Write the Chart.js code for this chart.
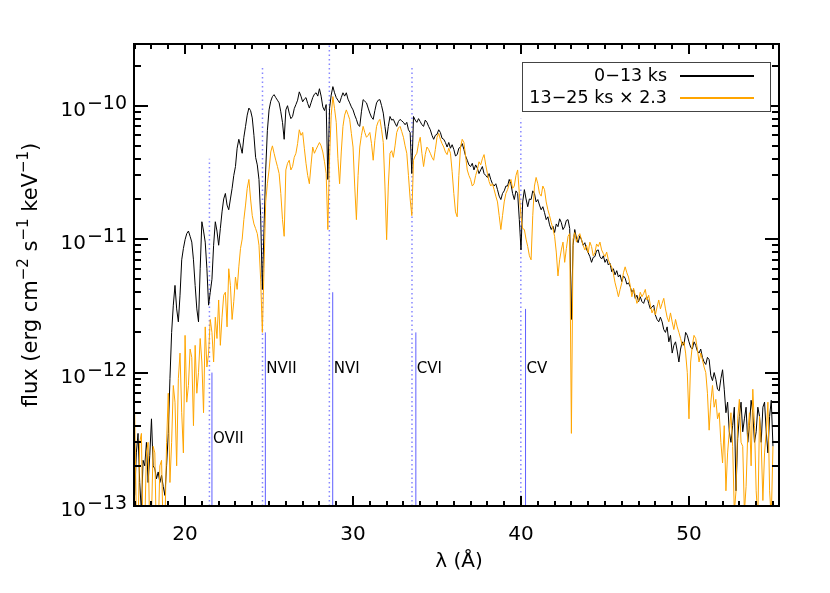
<!DOCTYPE html>
<html>
<head>
<meta charset="utf-8">
<script src="https://cdn.jsdelivr.net/npm/chart.js@4.4.1/dist/chart.umd.min.js"></script>
<style>
  html, body { margin: 0; padding: 0; background: #fff; }
  canvas { display: block; }
</style>
</head>
<body>
<canvas id="spec" width="830" height="593"></canvas>
<script>
// wavelength grid (Angstrom)
const wave = [
  17.0, 17.1, 17.2, 17.3, 17.4, 17.5, 17.6, 17.7, 17.8, 17.9,
  18.0, 18.1, 18.2, 18.3, 18.4, 18.5, 18.6, 18.7, 18.8, 18.9,
  19.0, 19.1, 19.2, 19.3, 19.4, 19.5, 19.6, 19.7, 19.8, 19.9,
  20.0, 20.1, 20.2, 20.3, 20.4, 20.5, 20.6, 20.7, 20.8, 20.9,
  21.0, 21.1, 21.2, 21.3, 21.4, 21.5, 21.6, 21.7, 21.8, 21.9,
  22.0, 22.1, 22.2, 22.3, 22.4, 22.5, 22.6, 22.7, 22.8, 22.9,
  23.0, 23.1, 23.2, 23.3, 23.4, 23.5, 23.6, 23.7, 23.8, 23.9,
  24.0, 24.1, 24.2, 24.3, 24.4, 24.5, 24.6, 24.7, 24.8, 24.9,
  25.0, 25.1, 25.2, 25.3, 25.4, 25.5, 25.6, 25.7, 25.8, 25.9,
  26.0, 26.1, 26.2, 26.3, 26.4, 26.5, 26.6, 26.7, 26.8, 26.9,
  27.0, 27.1, 27.2, 27.3, 27.4, 27.5, 27.6, 27.7, 27.8, 27.9,
  28.0, 28.1, 28.2, 28.3, 28.4, 28.5, 28.6, 28.7, 28.8, 28.9,
  29.0, 29.1, 29.2, 29.3, 29.4, 29.5, 29.6, 29.7, 29.8, 29.9,
  30.0, 30.1, 30.2, 30.3, 30.4, 30.5, 30.6, 30.7, 30.8, 30.9,
  31.0, 31.1, 31.2, 31.3, 31.4, 31.5, 31.6, 31.7, 31.8, 31.9,
  32.0, 32.1, 32.2, 32.3, 32.4, 32.5, 32.6, 32.7, 32.8, 32.9,
  33.0, 33.1, 33.2, 33.3, 33.4, 33.5, 33.6, 33.7, 33.8, 33.9,
  34.0, 34.1, 34.2, 34.3, 34.4, 34.5, 34.6, 34.7, 34.8, 34.9,
  35.0, 35.1, 35.2, 35.3, 35.4, 35.5, 35.6, 35.7, 35.8, 35.9,
  36.0, 36.1, 36.2, 36.3, 36.4, 36.5, 36.6, 36.7, 36.8, 36.9,
  37.0, 37.1, 37.2, 37.3, 37.4, 37.5, 37.6, 37.7, 37.8, 37.9,
  38.0, 38.1, 38.2, 38.3, 38.4, 38.5, 38.6, 38.7, 38.8, 38.9,
  39.0, 39.1, 39.2, 39.3, 39.4, 39.5, 39.6, 39.7, 39.8, 39.9,
  40.0, 40.1, 40.2, 40.3, 40.4, 40.5, 40.6, 40.7, 40.8, 40.9,
  41.0, 41.1, 41.2, 41.3, 41.4, 41.5, 41.6, 41.7, 41.8, 41.9,
  42.0, 42.1, 42.2, 42.3, 42.4, 42.5, 42.6, 42.7, 42.8, 42.9,
  43.0, 43.1, 43.2, 43.3, 43.4, 43.5, 43.6, 43.7, 43.8, 43.9,
  44.0, 44.1, 44.2, 44.3, 44.4, 44.5, 44.6, 44.7, 44.8, 44.9,
  45.0, 45.1, 45.2, 45.3, 45.4, 45.5, 45.6, 45.7, 45.8, 45.9,
  46.0, 46.1, 46.2, 46.3, 46.4, 46.5, 46.6, 46.7, 46.8, 46.9,
  47.0, 47.1, 47.2, 47.3, 47.4, 47.5, 47.6, 47.7, 47.8, 47.9,
  48.0, 48.1, 48.2, 48.3, 48.4, 48.5, 48.6, 48.7, 48.8, 48.9,
  49.0, 49.1, 49.2, 49.3, 49.4, 49.5, 49.6, 49.7, 49.8, 49.9,
  50.0, 50.1, 50.2, 50.3, 50.4, 50.5, 50.6, 50.7, 50.8, 50.9,
  51.0, 51.1, 51.2, 51.3, 51.4, 51.5, 51.6, 51.7, 51.8, 51.9,
  52.0, 52.1, 52.2, 52.3, 52.4, 52.5, 52.6, 52.7, 52.8, 52.9,
  53.0, 53.1, 53.2, 53.3, 53.4, 53.5, 53.6, 53.7, 53.8, 53.9,
  54.0, 54.1, 54.2, 54.3, 54.4, 54.5, 54.6, 54.7, 54.8, 54.9,
  55.0
]

// flux in units of 1e-12 erg cm^-2 s^-1 keV^-1
// 0-13 ks
const flux_early = [
  0.12, 0.25, 0.35, 0.15, 0.09, 0.22, 0.2, 0.3, 0.15, 0.24,
  0.45, 0.2, 0.19, 0.16, 0.18, 0.15, 0.17, 0.14, 0.12, 0.2,
  0.35, 0.9, 2.0, 3.2, 4.5, 3.0, 2.4, 3.8, 7.0, 8.5,
  9.9, 11, 11.5, 10.5, 9.5, 7.0, 4.5, 3.0, 2.4, 6.0,
  13.5, 11.5, 9.5, 6.0, 3.2, 4.0, 5.0, 9.0, 13.5, 11.5,
  9.0, 12, 16, 20, 22, 18, 16.6, 20, 24, 30,
  35, 48, 56, 50, 44, 58, 70, 85, 96, 92,
  81, 60, 41, 36, 28, 15, 4.2, 12, 33, 65,
  93, 108, 117, 121, 115, 110, 105, 90, 75, 56,
  93, 100, 88, 80, 83, 95, 102, 110, 127, 118,
  107, 112, 115, 104, 96, 105, 115, 122, 125, 118,
  134, 118, 98, 92, 102, 28, 95, 120, 139, 125,
  115, 110, 105, 115, 125, 118, 125, 112, 105, 98,
  93, 85, 79, 72, 70, 90, 111, 108, 105, 96,
  88, 82, 79, 92, 105, 110, 111, 100, 88, 70,
  56, 70, 83, 78, 79, 74, 70, 76, 79, 77,
  75, 72, 75, 66, 63, 31, 83, 78, 75, 80,
  76, 72, 70, 78, 75, 70, 66, 60, 56, 60,
  61, 66, 63, 57, 56, 53, 49, 53, 48, 51,
  47, 42, 43, 48, 49, 52, 47, 42, 39, 36,
  35, 37, 33, 36, 34, 31, 33, 35, 31, 30,
  29, 31, 28, 26, 25, 26, 23.5, 21, 19.8, 22,
  23, 25, 25, 28, 26, 22, 19.8, 23, 22, 14,
  8.3, 19, 23.5, 20, 17.5, 20, 19.8, 23, 22, 19,
  19.8, 18, 16.6, 17.5, 15.8, 14, 14.7, 12.8, 11.8, 12.5,
  11.2, 13, 12.4, 14.2, 13.3, 11.8, 12.4, 13.8, 14, 12,
  2.5, 9, 11.8, 10.2, 9.4, 10.6, 9.9, 9.0, 9.4, 8.4,
  7.9, 7.4, 6.7, 7.3, 7.4, 8.2, 8.3, 7.4, 7.1, 7.5,
  6.7, 7.1, 6.4, 6.6, 5.7, 6.0, 5.4, 5.8, 5.2, 5.4,
  4.8, 5.3, 5.1, 4.6, 4.7, 4.4, 4.0, 4.2, 3.6, 3.8,
  3.4, 3.7, 3.4, 3.3, 3.6, 3.7, 3.3, 3.0, 3.1, 3.2,
  2.7, 2.5, 2.4, 2.6, 2.4, 2.1, 2.0, 2.2, 1.7, 1.9,
  1.4, 1.6, 1.7, 1.45, 1.2, 1.5, 1.7, 1.6, 2.0, 1.9,
  1.7, 1.55, 1.5, 1.7, 1.6, 1.45, 1.4, 1.5, 1.3, 1.2,
  1.15, 1.3, 1.25, 0.95, 0.87, 1.0, 0.89, 0.75, 0.73, 0.9,
  1.05, 0.75, 0.5, 0.6, 0.36, 0.3, 0.4, 0.55, 0.13, 0.32,
  0.47, 0.6, 0.36, 0.45, 0.55, 0.3, 0.4, 0.62, 0.5, 0.3,
  0.36, 0.55, 0.47, 0.3, 0.55, 0.6, 0.36, 0.25, 0.47, 0.62,
  0.28
]

// 13-25 ks, already scaled x 2.3
const flux_late = [
  0.5, 0.08, 0.06, 0.3, 0.35, 0.05, 0.07, 0.25, 0.3, 0.06,
  0.08, 0.28, 0.25, 0.05, 0.06, 0.2, 0.22, 0.06, 0.07, 0.3,
  0.7, 0.15, 0.3, 0.8, 0.6, 0.2, 0.9, 1.4, 0.5, 0.25,
  1.9, 0.6, 0.8, 1.5, 1.3, 0.4, 1.6, 0.7, 1.0, 1.8,
  1.2, 0.5, 2.2, 1.1, 1.4, 2.5, 2.0, 1.2, 2.6, 1.8,
  3.5, 1.6, 2.6, 3.8, 4.0, 2.2, 6.0, 4.5, 2.5, 3.4,
  5.2, 4.2, 6.2, 8.5, 10, 14, 18, 24, 28, 20,
  15, 13, 12, 11, 9, 5, 2.0, 6, 19, 26,
  33, 45, 50, 44, 39, 35, 31, 22, 14, 10.5,
  33, 37, 39, 33, 35, 41, 44, 52, 66, 60,
  63, 48, 37, 30, 26, 36, 49, 44, 47, 50,
  53, 50, 45, 38, 31, 11.8, 40, 85, 117, 95,
  75, 40, 26, 45, 70, 85, 93, 86, 79, 62,
  49, 25, 14, 30, 49, 60, 70, 63, 58, 60,
  63, 52, 39, 55, 70, 76, 79, 66, 53, 25,
  9.9, 25, 44, 46, 41, 50, 63, 68, 70, 64,
  58, 50, 44, 30, 20, 15, 39, 42, 44, 52,
  58, 44, 35, 43, 49, 47, 44, 41, 39, 47,
  58, 62, 56, 52, 49, 45, 43, 48, 44, 32,
  22, 16, 14.7, 30, 49, 56, 53, 42, 33, 30,
  28, 25, 26, 30, 33, 38, 36, 40, 43, 36,
  31, 27, 25, 26, 23.5, 21, 19, 15, 11.8, 15,
  19, 22, 23.5, 26, 28, 24, 25, 30, 33, 22,
  14.7, 12, 11.8, 10, 8.8, 7.5, 7, 15, 25, 29,
  26, 22, 21, 25, 23.5, 19, 16.6, 15, 13.3, 12,
  10.5, 8, 5.3, 7, 8.3, 9.5, 6.7, 8.5, 10.5, 11,
  0.35, 10, 11.2, 9.5, 10.5, 11, 9.9, 9, 8.3, 9.0,
  7.9, 9.5, 8.8, 7.5, 7.9, 9.2, 8.8, 9.5, 8.3, 7.8,
  7.4, 8.0, 7.0, 6.5, 6.2, 5.5, 4.7, 4.2, 3.7, 4.2,
  4.7, 5.6, 6.2, 5.6, 5.2, 4.5, 3.7, 4.3, 3.8, 3.3,
  3.5, 4.0, 3.7, 3.9, 4.2, 3.5, 3.8, 3.2, 2.8, 3.0,
  2.7, 3.1, 3.5, 3.0, 3.3, 3.6, 3.0, 2.6, 2.4, 2.8,
  2.4, 2.1, 2.5, 2.2, 2.0, 1.8, 1.6, 1.7, 1.4, 1.0,
  0.45, 1.2, 1.6, 1.9, 1.8, 1.5, 1.2, 1.4, 1.25, 1.1,
  1.0, 0.7, 0.37, 0.6, 0.8, 0.55, 0.63, 0.45, 0.5, 0.3,
  0.21, 0.4, 0.13, 0.25, 0.36, 0.5, 0.28, 0.09, 0.13, 0.45,
  0.63, 0.3, 0.28, 0.09, 0.14, 0.35, 0.5, 0.2, 0.75, 0.4,
  0.13, 0.08, 0.47, 0.3, 0.11, 0.25, 0.36, 0.6, 0.13, 0.08,
  0.28
]

// ion lines: rest wavelength (solid) and shifted position (dotted)
const ion_names = ['OVII', 'NVII', 'NVI', 'CVI', 'CV']
const rest_wave = [21.60, 24.78, 28.79, 33.74, 40.27]
const shift_wave = [21.45, 24.61, 28.59, 33.51, 39.99]
const dotted_top = [40, 200, 300, 200, 80]   // 1e-12 units
const solid_top = [1.0, 2.0, 4.0, 2.0, 3.0]
const label_flux = [0.315, 1.07, 1.07, 1.07, 1.07]

const x_ticks = [20, 30, 40, 50]
const y_ticks = [1e-13, 1e-12, 1e-11, 1e-10]
const y_tick_exp = ['\u221213', '\u221212', '\u221211', '\u221210']

const legend_labels = ['0\u221213 ks', '13\u221225 ks \u00d7 2.3']
const colors = ['#000000', '#ffa500']

const FONT = '"DejaVu Sans", sans-serif'

const datasets = []

datasets.push({
    data: wave.map((w, i) => ({ x: w, y: flux_late[i] * 1e-12 })),
    borderColor: colors[1],
    borderWidth: 1,
    order: 1
})
datasets.push({
    data: wave.map((w, i) => ({ x: w, y: flux_early[i] * 1e-12 })),
    borderColor: colors[0],
    borderWidth: 1,
    order: 2
})

ion_names.forEach((name, i) => {
    datasets.push({
        data: [{ x: shift_wave[i], y: 1e-13 }, { x: shift_wave[i], y: dotted_top[i] * 1e-12 }],
        borderColor: 'rgb(135,135,255)',
        borderWidth: 1.5,
        borderDash: [1.5, 3],
        order: 3
    })
    datasets.push({
        data: [{ x: rest_wave[i], y: 1e-13 }, { x: rest_wave[i], y: solid_top[i] * 1e-12 }],
        borderColor: 'rgb(95,95,255)',
        borderWidth: 1,
        order: 3
    })
})

const frame_plugin = {
    id: 'frame',
    afterDraw(chart) {
        const ctx = chart.ctx
        const area = chart.chartArea
        const xs = chart.scales.x
        const ys = chart.scales.y
        ctx.save()

        // ion labels
        ctx.fillStyle = '#000'
        ctx.font = '15px ' + FONT
        ctx.textAlign = 'left'
        ctx.textBaseline = 'middle'
        ion_names.forEach((name, i) => {
            ctx.fillText(name, xs.getPixelForValue(rest_wave[i]) + 1, ys.getPixelForValue(label_flux[i] * 1e-12))
        })

        // frame
        ctx.strokeStyle = '#000'
        ctx.lineWidth = 2
        ctx.strokeRect(area.left, area.top, area.right - area.left, area.bottom - area.top)

        // x ticks (top + bottom)
        ctx.beginPath()
        for (let v = Math.ceil(xs.min); v <= xs.max; v++) {
            const px = Math.round(xs.getPixelForValue(v))
            const len = v % 10 === 0 ? 10 : 5
            ctx.moveTo(px, area.bottom)
            ctx.lineTo(px, area.bottom - len)
            ctx.moveTo(px, area.top)
            ctx.lineTo(px, area.top + len)
        }
        // y ticks (left + right)
        for (let d = -13; d <= -10; d++) {
            for (let m = 1; m <= 9; m++) {
                const v = m * Math.pow(10, d)
                if (v < ys.min * 0.999 || v > ys.max) continue
                const py = Math.round(ys.getPixelForValue(v))
                const len = m === 1 ? 14 : 7
                ctx.moveTo(area.left, py)
                ctx.lineTo(area.left + len, py)
                ctx.moveTo(area.right, py)
                ctx.lineTo(area.right - len, py)
            }
        }
        ctx.stroke()

        // x tick labels
        ctx.font = '20px ' + FONT
        ctx.textAlign = 'center'
        ctx.textBaseline = 'alphabetic'
        x_ticks.forEach(v => {
            ctx.fillText(String(v), xs.getPixelForValue(v), 540)
        })

        // y tick labels: 10^exp
        y_ticks.forEach((v, i) => {
            const py = ys.getPixelForValue(v)
            ctx.textAlign = 'right'
            ctx.font = '19px ' + FONT
            ctx.fillText(y_tick_exp[i], 127, py + 3)
            const w = ctx.measureText(y_tick_exp[i]).width
            ctx.font = '20px ' + FONT
            ctx.fillText('10', 127 - w - 1, py + 10)
        })

        // x title
        ctx.font = '20px ' + FONT
        ctx.textAlign = 'center'
        ctx.fillText('\u03bb (\u00c5)', 459, 567)

        // y title, rotated
        const parts = [
            ['flux (erg cm', 0], ['\u22122', 1], [' s', 0], ['\u22121', 1],
            [' keV', 0], ['\u22121', 1], [')', 0]
        ]
        const main_font = '21px ' + FONT
        const sup_font = '15px ' + FONT
        let total = 0
        parts.forEach(p => {
            ctx.font = p[1] ? sup_font : main_font
            total += ctx.measureText(p[0]).width
        })
        ctx.translate(37, 275)
        ctx.rotate(-Math.PI / 2)
        ctx.textAlign = 'left'
        let cx = -total / 2
        parts.forEach(p => {
            ctx.font = p[1] ? sup_font : main_font
            ctx.fillText(p[0], cx, p[1] ? -9 : 0)
            cx += ctx.measureText(p[0]).width
        })
        ctx.setTransform(1, 0, 0, 1, 0, 0)

        // legend
        ctx.fillStyle = '#fff'
        ctx.fillRect(522, 62, 248, 49)
        ctx.strokeStyle = '#444'
        ctx.lineWidth = 1
        ctx.strokeRect(522.5, 62.5, 248, 49)
        ctx.font = '17.5px ' + FONT
        ctx.textAlign = 'right'
        ctx.textBaseline = 'middle'
        ctx.fillStyle = '#000'
        legend_labels.forEach((label, i) => {
            const ly = 76 + i * 22
            ctx.fillText(label, 667, ly)
            ctx.strokeStyle = colors[i]
            ctx.lineWidth = 2
            ctx.beginPath()
            ctx.moveTo(680, ly)
            ctx.lineTo(754, ly)
            ctx.stroke()
        })

        ctx.restore()
    }
}

new Chart(document.getElementById('spec'), {
    type: 'line',
    data: { datasets: datasets },
    options: {
        responsive: false,
        animation: false,
        layout: { padding: { left: 134, right: 51, top: 44, bottom: 87 } },
        scales: {
            x: { type: 'linear', min: 16.96, max: 55.36, display: false },
            y: { type: 'logarithmic', min: 1e-13, max: 2.9e-10, display: false }
        },
        elements: {
            point: { radius: 0 },
            line: { tension: 0 }
        },
        plugins: {
            legend: { display: false },
            tooltip: { enabled: false }
        }
    },
    plugins: [frame_plugin]
})
</script>
</body>
</html>
